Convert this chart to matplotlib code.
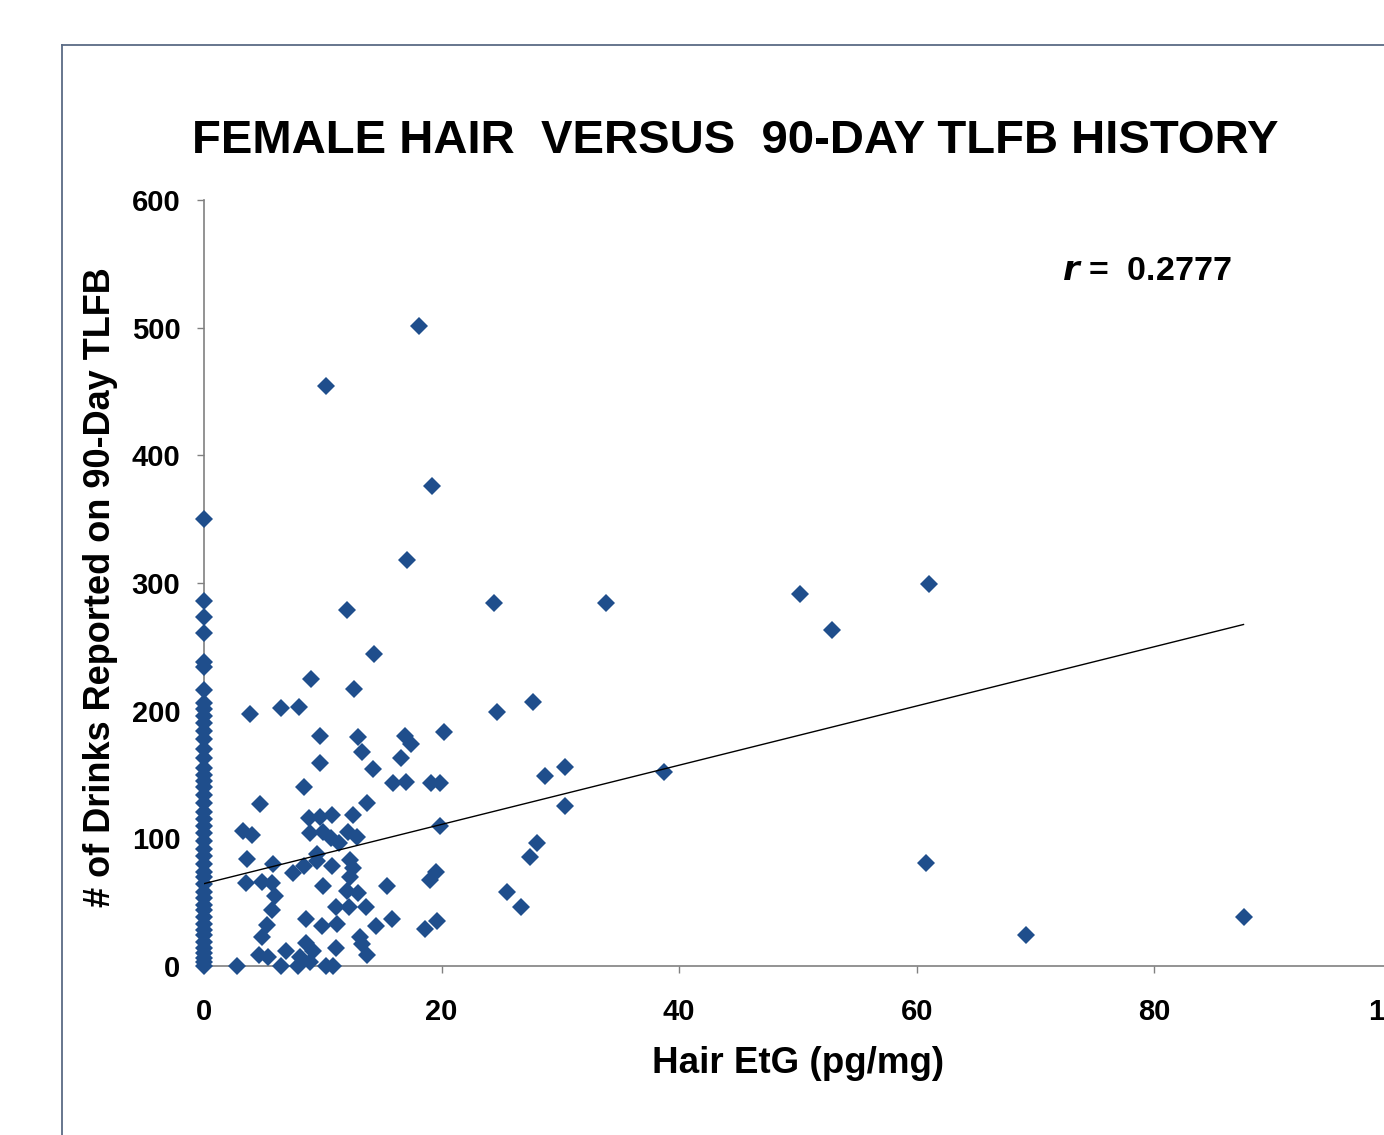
import matplotlib
matplotlib.use("Agg")
import matplotlib.pyplot as plt
from matplotlib.lines import Line2D

plt.rcParams["font.family"] = ["Liberation Sans", "DejaVu Sans"]

# participants with no detectable hair EtG (all plotted at x = 0)
zero_etg_drinks = [350, 286, 273, 261, 238, 234, 216, 206, 201, 196, 190, 184,
                   178, 170, 163, 155, 150, 145, 140, 134, 128, 121, 115, 110,
                   104, 98, 92, 86, 80, 74, 70, 64, 58, 53, 48, 44, 38, 33, 28,
                   24, 19, 14, 10, 6, 3, 0]

# participants with detectable hair EtG (pg/mg)
hair_etg = [18.1, 10.3, 19.2, 17.1, 12.0, 24.4, 33.8, 50.2, 52.9, 61.0, 14.3,
            9.0, 12.6, 3.9, 6.5, 8.0, 9.8, 13.0, 13.3, 16.9, 17.4, 16.6, 20.2,
            9.8, 14.2, 15.9, 17.0, 19.1, 19.9, 8.4, 4.7, 13.7,
            8.8, 9.8, 10.8, 12.5, 3.3, 4.0, 8.9, 10.0, 10.7, 11.4, 12.1, 12.9,
            19.9, 3.6, 5.8, 7.5, 8.4, 9.5, 9.5, 10.8, 12.3, 12.5, 12.3, 3.5,
            4.9, 5.7, 6.0, 5.7, 10.0, 12.0, 13.0, 15.4, 19.0, 19.5, 11.1, 12.2,
            13.6, 8.6, 9.9, 11.2, 14.5, 15.8, 18.6, 19.6, 5.3, 4.9, 4.6, 5.4,
            6.9, 8.6, 9.2, 8.1, 11.1, 13.1, 13.3, 13.7, 2.8, 6.5, 7.9, 8.9,
            10.3, 10.9,
            24.7, 27.7, 28.7, 30.4, 30.4, 38.7, 28.0, 27.4, 25.5, 26.7, 60.8,
            69.2, 87.5]
tlfb_drinks = [501, 454, 376, 318, 279, 284, 284, 291, 263, 299, 244,
               225, 217, 197, 202, 203, 180, 179, 168, 180, 174, 163, 183,
               159, 154, 143, 144, 143, 143, 140, 127, 128,
               116, 117, 118, 118, 106, 103, 104, 105, 100, 96, 105, 101,
               110, 84, 80, 73, 78, 88, 82, 78, 83, 77, 70, 65,
               66, 65, 55, 44, 63, 59, 57, 63, 67, 74, 46, 46,
               46, 37, 31, 33, 31, 37, 29, 35, 32, 23, 9, 7,
               12, 18, 12, 7, 14, 23, 17, 9, 0, 0, 0, 3,
               0, 0,
               199, 207, 149, 156, 125, 152, 96, 85, 58, 46, 81,
               24, 38]

# regression line as shown on the chart
trend_intercept = 64.5
trend_slope = 2.32
r_value = "0.2777"

x_ticks = [0, 20, 40, 60, 80, 100]
y_ticks = [0, 100, 200, 300, 400, 500, 600]

W, H = 1384, 1135
fig = plt.figure(figsize=(W / 100, H / 100), dpi=100)

# slide frame (only the top-left corner is inside the crop)
frame_color = "#5a6b85"
fig.add_artist(Line2D([62 / W, 62 / W], [1 - 45 / H, -0.05], color=frame_color,
                      lw=1.3, transform=fig.transFigure))
fig.add_artist(Line2D([62 / W, 1.05], [1 - 45 / H, 1 - 45 / H], color=frame_color,
                      lw=1.3, transform=fig.transFigure))

ax = fig.add_axes([204 / W, 1 - 966 / H, 1188 / W, 766 / H])

all_x = [0] * len(zero_etg_drinks) + hair_etg
all_y = zero_etg_drinks + tlfb_drinks
ax.plot(all_x, all_y, linestyle="none", marker="D", markersize=9,
        color="#1f4e8c", markeredgewidth=0, clip_on=False, zorder=3)

x_end = max(hair_etg)
ax.plot([0, x_end], [trend_intercept, trend_intercept + trend_slope * x_end],
        color="black", lw=1.0, zorder=4)

ax.set_xlim(0, 100)
ax.set_ylim(0, 600)
ax.set_xticks(x_ticks)
ax.set_yticks(y_ticks)
for side in ["top", "right"]:
    ax.spines[side].set_visible(False)
for side in ["left", "bottom"]:
    ax.spines[side].set_color("#808080")
    ax.spines[side].set_linewidth(1.2)
ax.tick_params(axis="both", direction="out", length=5, width=1.0, color="#808080",
               labelsize=21)
ax.tick_params(axis="x", pad=18)
ax.tick_params(axis="y", pad=12)
for lbl in ax.get_xticklabels() + ax.get_yticklabels():
    lbl.set_fontweight("bold")

fig.text(735 / W, 1 - 153 / H, "FEMALE HAIR  VERSUS  90-DAY TLFB HISTORY",
         ha="center", va="baseline", fontsize=34, fontweight="bold")
fig.text(798 / W, 1 - 1073 / H, "Hair EtG (pg/mg)", ha="center", va="baseline",
         fontsize=26.5, fontweight="bold")
fig.text(100 / W, 1 - 587 / H, "# of Drinks Reported on 90-Day TLFB", rotation=90,
         ha="center", va="center", fontsize=26, fontweight="bold")
fig.text(1062 / W, 1 - 280 / H, "$\\mathbfit{r}$ =  " + r_value, ha="left",
         va="baseline", fontsize=24.5, fontweight="bold")

fig.savefig("out.png", dpi=100)
